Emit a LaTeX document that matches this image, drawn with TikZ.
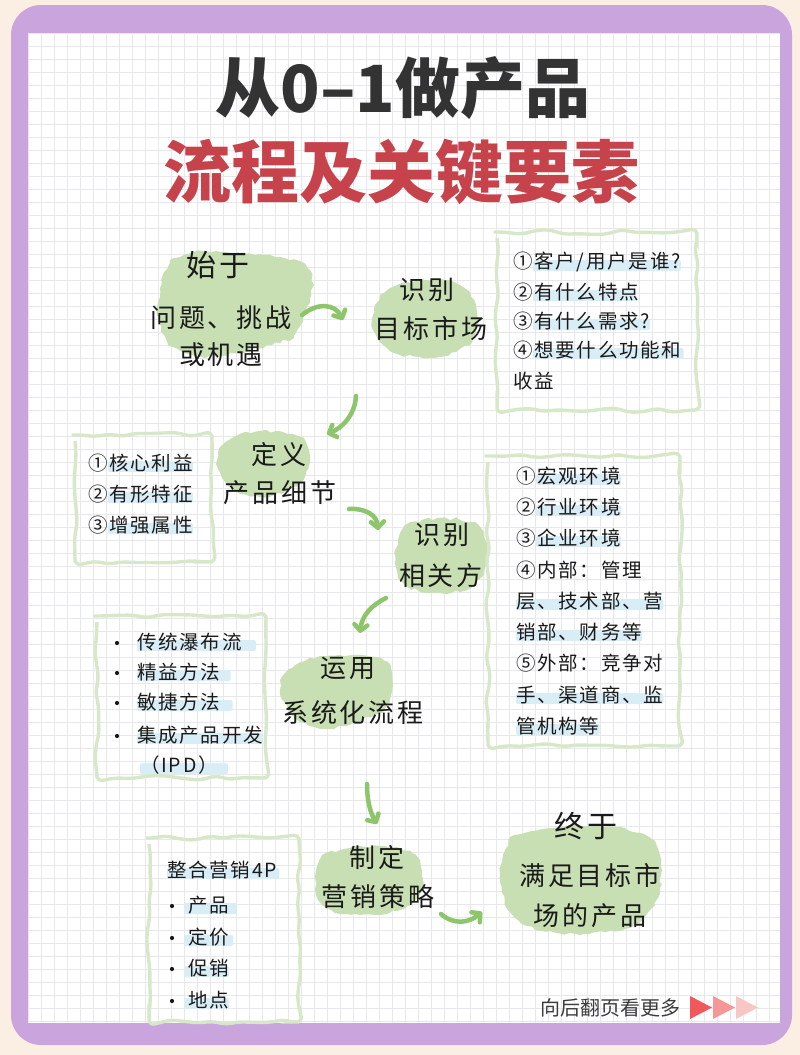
\documentclass[tikz,border=0pt]{standalone}
\usepackage{fontspec}
\setmainfont{Noto Sans CJK SC}
\newfontfamily\cjk{Noto Sans CJK SC}
\newfontfamily\hand[LetterSpace=11]{Noto Sans CJK SC}
\newfontfamily\handl[LetterSpace=9]{Noto Sans CJK SC}
\usetikzlibrary{arrows.meta,decorations.pathmorphing,calc}
\pgfdeclarelayer{bg}\pgfdeclarelayer{mid}\pgfsetlayers{bg,mid,main}
\definecolor{cream}{HTML}{FBEEE3}
\definecolor{purp}{HTML}{C9A4DD}
\definecolor{gridc}{HTML}{E8E8EC}
\definecolor{blobg}{HTML}{C8DFB3}
\definecolor{boxg}{HTML}{D7E8C9}
\definecolor{arrg}{HTML}{8DC66A}
\definecolor{hlc}{HTML}{D9EDF7}
\definecolor{ink}{HTML}{1A1A1A}
\definecolor{titleA}{HTML}{333333}
\definecolor{titleB}{HTML}{C6434C}
\definecolor{footc}{HTML}{3C3C3C}
\definecolor{triA}{HTML}{F0585C}
\definecolor{triB}{HTML}{F59697}
\definecolor{triC}{HTML}{F8C7C5}
\newcommand{\hlbar}[3]{\fill[hlc, rounded corners=2pt] ([xshift=#2, yshift=2pt]#1.west) rectangle ([xshift=#3, yshift=-9pt]#1.east);}
\begin{document}
\pgfmathsetseed{7}
\begin{tikzpicture}[x=1pt,y=-1pt,
  txt/.style={text=ink, inner sep=0pt, font=\hand\fontsize{26}{30}\selectfont},
  big/.style={text=ink, inner sep=0pt, font=\hand\fontsize{30}{34}\selectfont},
  li/.style={text=ink, inner sep=0pt, anchor=west, font=\handl\fontsize{19.5}{22}\selectfont},
  bul/.style={circle, fill=ink, inner sep=0pt, minimum size=4.2pt},
  blob/.style={fill=blobg, decorate, decoration={random steps,segment length=5pt,amplitude=1.6pt}},
  wbox/.style={draw=boxg, line width=3.4pt, decorate, decoration={random steps,segment length=14pt,amplitude=2.4pt}, rounded corners=6pt},
  arr/.style={draw=arrg, line width=4.5pt, line cap=round, -{Straight Barb[length=6pt,width=13pt,round]}}
]
\useasboundingbox (0,0) rectangle (800,1055);
\begin{pgfonlayer}{bg}
\fill[cream] (0,0) rectangle (800,1055);
\fill[purp, rounded corners=30pt] (11,5) rectangle (792,1045);
\fill[white] (28,33) rectangle (780,1023);
\foreach \x in {28,41,...,780} \draw[gridc, line width=0.6pt] (\x,33) -- (\x,1023);
\foreach \y in {33,46,...,1023} \draw[gridc, line width=0.6pt] (28,\y) -- (780,\y);
\end{pgfonlayer}

% titles
\node[font=\cjk\bfseries\fontsize{65}{65}\selectfont, text=titleA] (t1) at (403,88) {从0–1做产品};
\node[font=\cjk\bfseries\fontsize{68}{68}\selectfont, text=titleB] (t2) at (401,172) {流程及关键要素};

% step labels
\node[big] (s1a) at (218,265) {始于};
\node[txt] (s1b) at (221,318) {问题、挑战};
\node[txt] (s1c) at (221,355) {或机遇};
\node[txt] (s2a) at (427,290) {识别};
\node[txt] (s2b) at (431,328) {目标市场};
\node[txt] (s3a) at (279,455) {定义};
\node[txt] (s3b) at (280,493) {产品细节};
\node[txt] (s4a) at (442,535) {识别};
\node[txt] (s4b) at (441,576) {相关方};
\node[txt] (s5a) at (348,668) {运用};
\node[txt] (s5b) at (353,713) {系统化流程};
\node[txt] (s6a) at (377,858) {制定};
\node[txt] (s6b) at (378,897) {营销策略};
\node[big] (s7a) at (586,826) {终于};
\node[txt] (s7b) at (590,876) {满足目标市};
\node[txt] (s7c) at (590,916) {场的产品};

% green blobs
\begin{pgfonlayer}{mid}
\fill[blob] (170,260) -- (186,254) -- (205,251) -- (230,253) -- (255,255) -- (280,257) -- (300,261) -- (310,270) -- (314,285) -- (310,298) -- (305,312) -- (300,326) -- (294,338) -- (272,345) -- (250,350) -- (228,355) -- (205,358) -- (184,353) -- (168,345) -- (161,332) -- (158,318) -- (158,302) -- (160,288) -- (164,272) -- cycle;
\fill[blob] (380,295) -- (390,288) -- (402,283) -- (425,280) -- (445,280) -- (460,285) -- (470,292) -- (476,305) -- (478,318) -- (476,332) -- (470,345) -- (456,352) -- (440,357) -- (420,357) -- (400,355) -- (387,348) -- (378,340) -- (373,330) -- (372,318) -- (375,305) -- cycle;
\fill[blob] (222,445) -- (232,438) -- (242,433) -- (260,431) -- (278,431) -- (293,434) -- (305,440) -- (309,450) -- (310,462) -- (306,474) -- (300,484) -- (287,491) -- (272,496) -- (255,496) -- (240,494) -- (229,487) -- (222,478) -- (218,469) -- (217,460) -- (218,452) -- cycle;
\fill[blob] (405,525) -- (422,520) -- (440,518) -- (458,519) -- (475,522) -- (484,532) -- (488,545) -- (487,560) -- (484,575) -- (474,585) -- (460,592) -- (440,593) -- (420,592) -- (406,586) -- (398,578) -- (395,564) -- (395,550) -- (399,536) -- cycle;
\fill[blob] (292,668) -- (305,661) -- (320,656) -- (340,655) -- (360,655) -- (376,657) -- (388,662) -- (392,673) -- (393,685) -- (390,698) -- (385,710) -- (371,717) -- (355,722) -- (343,726) -- (330,729) -- (314,727) -- (300,722) -- (289,712) -- (282,700) -- (280,690) -- (280,680) -- (285,673) -- cycle;
\fill[blob] (322,855) -- (340,850) -- (360,846) -- (380,846) -- (400,848) -- (412,853) -- (420,860) -- (422,872) -- (423,885) -- (419,896) -- (412,905) -- (397,911) -- (380,915) -- (360,915) -- (340,914) -- (327,908) -- (318,900) -- (315,889) -- (315,878) -- (317,866) -- cycle;
\fill[blob] (510,837) -- (535,831) -- (560,826) -- (590,826) -- (620,827) -- (640,833) -- (655,841) -- (660,855) -- (662,870) -- (660,888) -- (655,905) -- (644,918) -- (630,928) -- (605,932) -- (580,935) -- (556,933) -- (535,930) -- (519,921) -- (508,910) -- (502,893) -- (500,875) -- (503,855) -- cycle;
\end{pgfonlayer}

% boxes
\draw[wbox] (497,232) rectangle (697,410);
\draw[wbox] (75,435) rectangle (212,562);
\draw[wbox] (488,456) rectangle (680,746);
\draw[wbox] (97,616) rectangle (266,778);
\draw[wbox] (149,838) rectangle (299,1022);

% box 1
\node[li] (r1) at (513,262) {①客户/用户是谁?};
\node[li] (r2) at (513,292) {②有什么特点};
\node[li] (r3) at (513,321) {③有什么需求?};
\node[li] (r4) at (513,350) {④想要什么功能和};
\node[li] (r5) at (513,381) {收益};
% box 2
\node[li] (p1) at (88,463) {①核心利益};
\node[li] (p2) at (88,494) {②有形特征};
\node[li] (p3) at (88,525) {③增强属性};
% box 3
\node[li] (q1) at (516,476) {①宏观环境};
\node[li] (q2) at (516,507) {②行业环境};
\node[li] (q3) at (516,538) {③企业环境};
\node[li] (q4) at (516,570) {④内部：管理};
\node[li] (q5) at (516,601) {层、技术部、营};
\node[li] (q6) at (516,632) {销部、财务等};
\node[li] (q7) at (516,663) {⑤外部：竞争对};
\node[li] (q8) at (516,695) {手、渠道商、监};
\node[li] (q9) at (516,726) {管机构等};
% box 4
\node[bul] (b41) at (117,643) {};
\node[bul] (b42) at (117,673) {};
\node[bul] (b43) at (117,703) {};
\node[bul] (b44) at (117,736) {};
\node[li] (m1) at (137,642) {传统瀑布流};
\node[li] (m2) at (137,672) {精益方法};
\node[li] (m3) at (137,702) {敏捷方法};
\node[li] (m4) at (137,735) {集成产品开发};
\node[li] (m5) at (140,765) {（IPD）};
% box 5
\node[li] (k0) at (167,870) {整合营销4P};
\node[bul] (b51) at (172,906) {};
\node[bul] (b52) at (172,938) {};
\node[bul] (b53) at (172,969) {};
\node[bul] (b54) at (172,1001) {};
\node[li] (k1) at (188,905) {产品};
\node[li] (k2) at (188,937) {定价};
\node[li] (k3) at (188,968) {促销};
\node[li] (k4) at (188,1000) {地点};

\begin{pgfonlayer}{mid}
\hlbar{r1}{20pt}{0pt}\hlbar{r2}{20pt}{-3pt}\hlbar{r3}{20pt}{0pt}\hlbar{r4}{20pt}{2pt}
\hlbar{p1}{20pt}{0pt}\hlbar{p2}{20pt}{0pt}\hlbar{p3}{20pt}{0pt}
\hlbar{q1}{20pt}{0pt}\hlbar{q2}{20pt}{0pt}\hlbar{q3}{20pt}{0pt}
\hlbar{q5}{0pt}{0pt}\hlbar{q6}{0pt}{0pt}\hlbar{q8}{0pt}{0pt}\hlbar{q9}{0pt}{0pt}
\hlbar{m1}{0pt}{14pt}\hlbar{m2}{0pt}{10pt}\hlbar{m3}{0pt}{12pt}\hlbar{m4}{0pt}{0pt}\hlbar{m5}{0pt}{10pt}
\hlbar{k0}{0pt}{2pt}\hlbar{k1}{-4pt}{8pt}\hlbar{k2}{-4pt}{4pt}\hlbar{k3}{-4pt}{0pt}\hlbar{k4}{-4pt}{0pt}
\end{pgfonlayer}

% arrows
\coordinate (a1s) at (302,315); \coordinate (a1e) at (343,320);
\draw[arr] (a1s) .. controls (318,302) and (335,304) .. (a1e);
\coordinate (a2s) at (356,396); \coordinate (a2e) at (327,434);
\draw[arr] (a2s) .. controls (355,415) and (342,428) .. (a2e);
\coordinate (a3s) at (349,509); \coordinate (a3e) at (378,530);
\draw[arr] (a3s) .. controls (365,508) and (377,515) .. (a3e);
\coordinate (a4s) at (386,598); \coordinate (a4e) at (360,633);
\draw[arr] (a4s) .. controls (372,605) and (362,615) .. (a4e);
\coordinate (a5s) at (367,784); \coordinate (a5e) at (377,824);
\draw[arr] (a5s) .. controls (367,800) and (370,812) .. (a5e);
\coordinate (a6s) at (441,914); \coordinate (a6e) at (482,912);
\draw[arr] (a6s) .. controls (455,926) and (470,922) .. (a6e);

% footer
\node[font=\cjk\fontsize{20}{20}\selectfont, text=footc] (ft) at (610,1008) {向后翻页看更多};
\fill[triA] (690,996) -- (712,1007.5) -- (690,1019) -- cycle;
\fill[triB] (713,996) -- (735,1007.5) -- (713,1019) -- cycle;
\fill[triC] (736,996) -- (758,1007.5) -- (736,1019) -- cycle;
\end{tikzpicture}
\end{document}
